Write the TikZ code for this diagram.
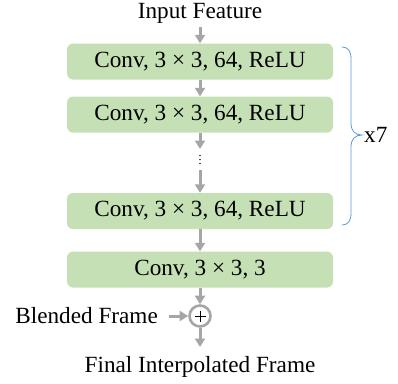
\documentclass[tikz,border=0pt]{standalone}
\usepackage{fontspec}
\setmainfont{Liberation Serif}
\usetikzlibrary{arrows.meta,calc}
\definecolor{boxgreen}{HTML}{C5E0B4}
\definecolor{arrgray}{HTML}{A6A6A6}
\definecolor{braceblue}{HTML}{5B9BD5}
\begin{document}
\begin{tikzpicture}[x=1pt,y=-1pt,
  every node/.style={font=\fontsize{23.2}{27}\selectfont, inner sep=0pt},
  convbox/.style={fill=boxgreen, rounded corners=6pt, minimum width=266pt, minimum height=36pt},
  arr/.style={draw=arrgray, line width=3pt, -{Triangle[width=10pt,length=8.5pt]}},
  sumnode/.style={circle, draw=arrgray, line width=2.6pt, fill=white, minimum size=21pt}]
  \useasboundingbox (0,0) rectangle (398,383);

  % labels at the ends
  \node (in) at (200,13) {Input Feature};
  \node (out) at (200,367) {Final Interpolated Frame};

  % stack of convolution layers
  \node[convbox] (b1) at (200,61.5) {Conv, 3 × 3, 64, ReLU};
  \node[convbox] (b2) at (200,114.5) {Conv, 3 × 3, 64, ReLU};
  \node[convbox] (b3) at (200,211) {Conv, 3 × 3, 64, ReLU};
  \node[convbox] (b4) at (200,269.5) {Conv, 3 × 3, 3};

  % residual addition
  \node[sumnode] (sum) at (200,316) {};
  \draw[black, line width=0.8pt] ($(sum.center)+(-5.5,0)$) -- ($(sum.center)+(5.5,0)$)
    ($(sum.center)+(0,-5.5)$) -- ($(sum.center)+(0,5.5)$);
  \node[anchor=east] (blend) at (158,316) {Blended Frame};
  \coordinate (bin) at (169,316);

  % gap with ellipsis
  \coordinate (g1) at (200,149);
  \coordinate (g2) at (200,170);
  \foreach \yy in {155.5,159.5,163.5} \fill[black!80] (200,\yy) circle (0.8pt);

  % arrows
  \coordinate (inb) at (200,27);
  \draw[arr] (inb) -- (b1.north);
  \draw[arr] (b1) -- (b2);
  \draw[arr] (b2.south) -- (g1);
  \draw[arr] (g2) -- (b3.north);
  \draw[arr] (b3) -- (b4);
  \draw[arr] (b4.south) -- (sum.north);
  \draw[arr] (bin) -- (sum.west);
  \coordinate (outt) at (200,347);
  \draw[arr] (sum.south) -- (outt);

  % repetition brace
  \coordinate (bt) at (342,47);
  \coordinate (bm) at (362,135);
  \coordinate (bb) at (342,225);
  \draw[braceblue, line width=0.8pt]
    (bt) .. controls (348,47) and (351,51) .. (351,59)
    -- (351,123) .. controls (351,131) and (355,135) .. (bm)
    .. controls (355,135) and (351,139) .. (351,147)
    -- (351,213) .. controls (351,221) and (348,225) .. (bb);
  \node[anchor=west] (rep) at (364,135) {x7};
\end{tikzpicture}
\end{document}
